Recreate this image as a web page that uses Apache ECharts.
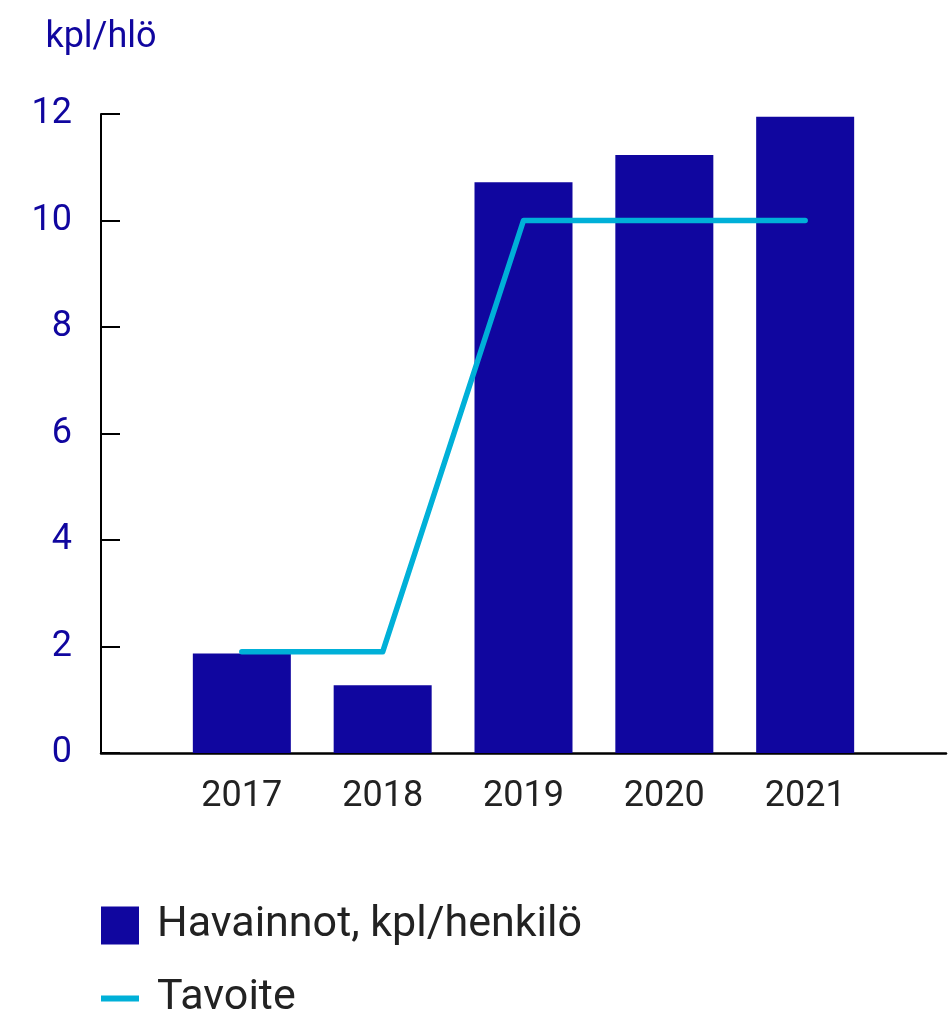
<!DOCTYPE html>
<html>
<head>
<meta charset="utf-8">
<script src="https://cdn.jsdelivr.net/npm/echarts@6/dist/echarts.min.js"></script>
<style>
  html, body { margin: 0; padding: 0; background: #fff; }
  #chart { width: 949px; height: 1016px; }
</style>
</head>
<body>
<div id="chart"></div>
<script>
// data
const years = ['2017', '2018', '2019', '2020', '2021']
const havainnot = [1.87, 1.27, 10.72, 11.23, 11.95]
const tavoite = [1.9, 1.9, 10, 10, 10]

const navy = '#10069f'
const cyan = '#00b0d8'
const font = 'Roboto'

// empty slot on both sides so the axis runs past the first/last year
const cats = [''].concat(years, [''])
const pad = arr => [null].concat(arr, [null])

const chart = echarts.init(document.getElementById('chart'))

chart.setOption({
  animation: false,
  textStyle: { fontFamily: font },
  grid: {
    left: 101,
    right: 0,
    top: 114,
    bottom: 263
  },
  legend: {
    orient: 'vertical',
    left: 101,
    top: 904,
    height: 200,
    padding: 0,
    itemWidth: 38,
    itemHeight: 38,
    itemGap: 30,
    textStyle: { fontSize: 43, color: '#222', fontFamily: font, padding: [0, 0, 0, 13] },
    data: [
      { name: 'Havainnot, kpl/henkilö', icon: 'rect' },
      { name: 'Tavoite', icon: 'path://M0,0H38V6H0Z' }
    ]
  },
  xAxis: {
    type: 'category',
    data: cats,
    boundaryGap: false,
    axisLine: { lineStyle: { color: '#000', width: 2.5 } },
    axisTick: { show: false },
    axisLabel: { fontSize: 36, color: '#222', margin: 26, interval: 0 }
  },
  yAxis: {
    type: 'value',
    min: 0,
    max: 12,
    interval: 2,
    name: 'kpl/hlö',
    nameLocation: 'end',
    nameGap: 76,
    nameTextStyle: { fontSize: 36, color: navy, verticalAlign: 'middle' },
    axisLine: { show: true, lineStyle: { color: '#000', width: 2 } },
    axisTick: { show: true, inside: true, length: 19, lineStyle: { color: '#000', width: 2 } },
    axisLabel: { fontSize: 36, color: navy, margin: 29, padding: [0, 0, 12, 0] },
    splitLine: { show: false }
  },
  series: [
    {
      name: 'Havainnot, kpl/henkilö',
      type: 'bar',
      barWidth: 98,
      itemStyle: { color: navy },
      data: pad(havainnot)
    },
    {
      name: 'Tavoite',
      type: 'line',
      symbol: 'none',
      lineStyle: { color: cyan, width: 5.5, cap: 'round', join: 'round' },
      itemStyle: { color: cyan },
      data: pad(tavoite)
    }
  ]
})
</script>
</body>
</html>
